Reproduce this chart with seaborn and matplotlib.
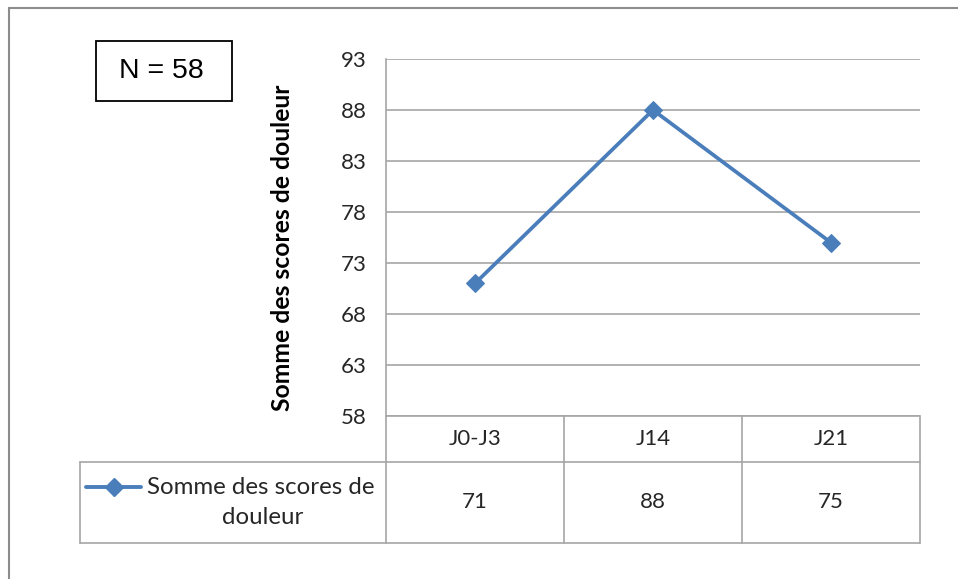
import pandas as pd
import seaborn as sns
import matplotlib.pyplot as plt
from matplotlib.lines import Line2D
from matplotlib.patches import Rectangle

periods = ["J0-J3", "J14", "J21"]
pain_sum = [71, 88, 75]
series_name = "Somme des scores de douleur"
y_ticks = [58, 63, 68, 73, 78, 83, 88, 93]
n_label = "N = 58"

sns.set_theme(style="white")
plt.rcParams["font.family"] = ["Lato", "DejaVu Sans"]

BLUE = "#4a7ebb"
GREY = "#a6a6a6"
TXT = "#262626"
W, H = 958, 579


def fx(px):
    return px / W


def fy(py):
    return 1 - py / H


def fig_line(fig, x0, y0, x1, y1, color=GREY, lw=1.2):
    fig.add_artist(Line2D([fx(x0), fx(x1)], [fy(y0), fy(y1)],
                          color=color, lw=lw, transform=fig.transFigure))


def main() -> None:
    df = pd.DataFrame({"period": periods, "value": pain_sum})

    fig = plt.figure(figsize=(W / 100, H / 100), dpi=100)
    left, right, top, bottom = 386, 920, 59, 416
    ax = fig.add_axes([fx(left), fy(bottom), fx(right - left), (bottom - top) / H])

    sns.lineplot(data=df, x="period", y="value", ax=ax, color=BLUE,
                 linewidth=2.7, marker="D", markersize=9,
                 markeredgecolor=BLUE, sort=False)

    ax.set_xlim(-0.5, len(periods) - 0.5)
    ax.set_ylim(y_ticks[0], y_ticks[-1])
    ax.set_yticks(y_ticks)
    ax.set_yticklabels([str(t) for t in y_ticks], fontsize=16, color=TXT)
    ax.set_xticks([])
    ax.set_xlabel("")
    ax.set_ylabel("")
    ax.tick_params(axis="y", length=0, pad=14)
    ax.grid(axis="y", color=GREY, lw=1.2)
    for side in ["top", "right", "bottom"]:
        ax.spines[side].set_visible(False)
    ax.spines["left"].set_color(GREY)
    ax.spines["left"].set_linewidth(1.2)
    ax.set_facecolor("none")

    fig.text(fx(283), fy((top + bottom) / 2 + 10), series_name, rotation=90,
             ha="center", va="center", fontsize=17.8, fontweight="bold",
             color="black")

    # data table under the axis
    col_w = (right - left) / len(periods)
    row1, row2, row3 = 416, 462, 543
    fig_line(fig, left, row1, right, row1)
    fig_line(fig, 80, row2, right, row2)
    fig_line(fig, 80, row3, right, row3)
    fig_line(fig, 80, row2, 80, row3)
    fig_line(fig, left, row1, left, row3)
    for i, (p, v) in enumerate(zip(periods, pain_sum)):
        x_edge = left + col_w * (i + 1)
        fig_line(fig, x_edge, row1, x_edge, row3)
        xc = left + col_w * (i + 0.5)
        fig.text(fx(xc), fy((row1 + row2) / 2), p, ha="center", va="center",
                 fontsize=16, color=TXT)
        fig.text(fx(xc), fy((row2 + row3) / 2), str(v), ha="center", va="center",
                 fontsize=16, color=TXT)

    fig.add_artist(Line2D([fx(86), fx(141)], [fy(487), fy(487)], color=BLUE,
                          lw=2.8, transform=fig.transFigure))
    fig.add_artist(Line2D([fx(113.5)], [fy(487)], color=BLUE, marker="D",
                          markersize=9, transform=fig.transFigure))
    fig.text(fx(261), fy(487), "Somme des scores de", ha="center", va="center",
             fontsize=17.3, color=TXT)
    fig.text(fx(263), fy(518), "douleur", ha="center", va="center",
             fontsize=17.3, color=TXT)

    # N box
    fig.add_artist(Rectangle((fx(96), fy(101)), fx(232 - 96), (101 - 41) / H,
                             fill=False, edgecolor="black", lw=1.3,
                             transform=fig.transFigure))
    fig.text(fx(161), fy(71), n_label, ha="center", va="center", fontsize=20.5,
             family=["Liberation Sans", "DejaVu Sans"], color="black")

    # outer chart frame
    fig_line(fig, 9, 8, W, 8, color="#8c8c8c", lw=1.5)
    fig_line(fig, 9, 8, 9, H, color="#8c8c8c", lw=1.5)

    fig.savefig("out.png", dpi=100)


if __name__ == "__main__":
    main()
